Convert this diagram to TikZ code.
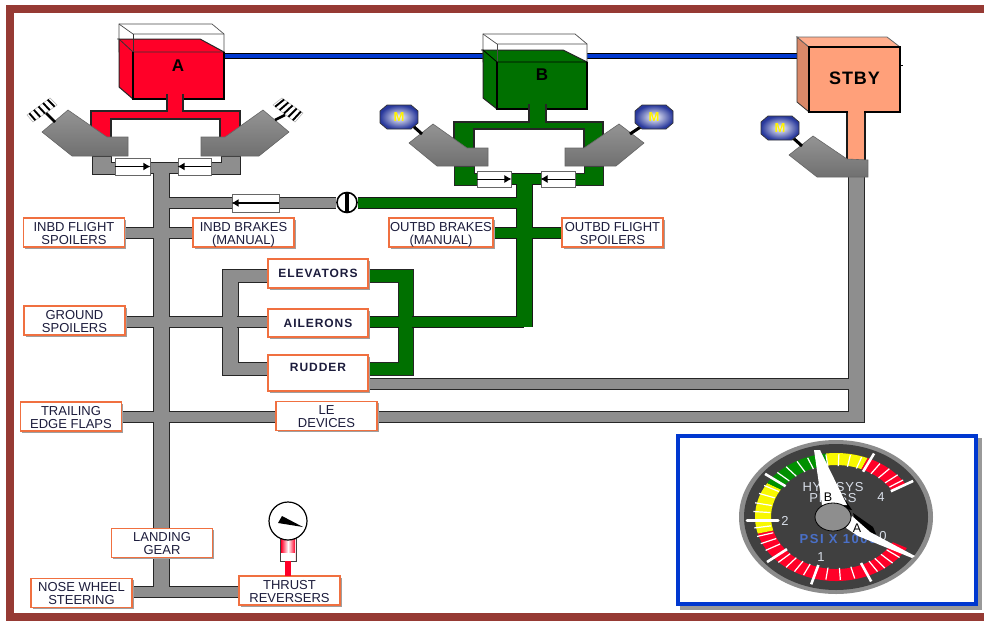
\documentclass[tikz,border=0pt]{standalone}
\usepackage{fontspec}
\setmainfont{Liberation Sans}
\usetikzlibrary{calc,shadows,arrows.meta}
\pgfdeclarelayer{back}\pgfdeclarelayer{bg}\pgfsetlayers{back,bg,main}
\definecolor{frameC}{HTML}{963A34}
\definecolor{pipeG}{HTML}{8E8E8E}
\definecolor{pipeV}{HTML}{007000}
\definecolor{pipeR}{HTML}{FF0028}
\definecolor{pipeP}{HTML}{FFA07A}
\definecolor{pipeB}{HTML}{0038D0}
\definecolor{lblO}{HTML}{F07040}
\definecolor{txtC}{HTML}{1C1C3C}
\definecolor{dial}{HTML}{404040}
\definecolor{dialY}{HTML}{F8F800}
\definecolor{dialG}{HTML}{009000}
\definecolor{dialT}{HTML}{D8DEE8}
\definecolor{dialB}{HTML}{4A70C8}
\definecolor{octO}{HTML}{28389C}
\def\pex{0}
\newcommand\twolines[2]{\raisebox{-5.5pt}[12pt][12pt]{\begin{tabular}{@{}c@{}}#1\\#2\end{tabular}}}
\tikzset{
 x=1pt,y=-1pt,
 lbl/.style={draw=lblO,line width=1.1pt,fill=white,inner sep=0pt,text=txtC,
   font=\fontsize{13}{12}\selectfont,
   copy shadow={shadow xshift=1.5pt,shadow yshift=-1.5pt,fill=gray!75,draw=none}},
 lblb/.style={lbl,align=center,font=\fontsize{12}{13}\bfseries\addfontfeatures{LetterSpace=8}},
 sz/.style={minimum width=101pt,minimum height=29pt},
 pv/.style={line width=15pt+\pex pt},
 ph/.style={line width=10pt+\pex pt},
 pl/.style={line width=10pt+\pex pt},
 edge/.style={draw=black!85,line width=1.2pt,line join=miter},
 valve/.style={draw=black!60,line width=.9pt,fill=white,inner sep=0pt},
 varrow/.style={-{Latex[length=7pt,width=8pt]},line width=1.6pt,black},
 pumpS/.style={draw=black!60,line width=.6pt,top color=black!42,bottom color=black!56},
 octS/.style={draw=black!80,line width=.7pt,inner color=white,outer color=octO},
 mtxt/.style={text=yellow,font=\fontsize{13}{13}\bfseries\selectfont,inner sep=0pt},
 boxtxt/.style={font=\fontsize{17}{17}\bfseries\selectfont,text=black,inner sep=0pt},
 dtxt/.style={text=dialT,font=\fontsize{13}{13}\selectfont,inner sep=0pt},
}
\newcommand\gseg[3]{\fill[#1] ($(G)+(#2:81pt and 64pt)$) arc[start angle=#2,end angle=#3,x radius=81pt,y radius=64pt] -- ($(G)+(#3:65pt and 52pt)$) arc[start angle=#3,end angle=#2,x radius=65pt,y radius=52pt] -- cycle;}
\newcommand\octa[3]{% name x y
  \path[octS] (#2-19,#3-6) -- (#2-12,#3-12) -- (#2+12,#3-12) -- (#2+19,#3-6) -- (#2+19,#3+6) -- (#2+12,#3+12) -- (#2-12,#3+12) -- (#2-19,#3+6) -- cycle;
  \node[mtxt] (#1) at (#2,#3) {M};}
\newcommand\grayNet{%
  \draw[pv] (mainT) -- (mainB);
  \draw[pl] (tA) -- (tB);
  \draw[ph] (mainL) -- (chkC.west |- mainL);
  \draw[ph] (chkC.east |- mainL) -- (shut.west);
  \draw[ph] (inf.east |- yI) -- (inb.west |- yI);
  \draw[ph] (gsp.east |- yG) -- (ail.west |- yG);
  \draw[pl] (nws.east |- yN) -- (thr.west |- yN);
  \draw[pl] (tef.east |- yT) -- (led.west |- yT);
  \draw[pl] (led.east |- yT) -- (corner);
  \draw[pv] (corner) ++(0,4.5) -- (stT);
  \draw[pl] (rud.east |- rr) -- (rr);
}
\newcommand\greenNet{%
  \draw[pv] (gT) -- (gB);
  \draw[pl] (gvL) -- (gvR);
  \draw[ph] (shut.east) -- (gT2);
  \draw[ph] (obb.east |- yI) -- (obf.west |- yI);
  \draw[ph] (ail.east |- yG) -- (gB2);
}
\begin{document}
\begin{tikzpicture}
\useasboundingbox (0,0) rectangle (984,621);
\begin{pgfonlayer}{back}
\fill[white] (0,0) rectangle (984,621);
\end{pgfonlayer}
% frame
\fill[frameC] (6,5) rectangle (984,13);
\fill[frameC] (6,5) rectangle (14,621);
\fill[frameC] (6,613) rectangle (984,621);

% coordinates
\coordinate (mainT) at (161.5,167);
\coordinate (mainB) at (161.5,596.5);
\coordinate (mainL) at (161.5,202.5);
\coordinate (tA) at (150,167.5);
\coordinate (tB) at (178,167.5);
\coordinate (yI) at (0,232.5);
\coordinate (yG) at (0,322);
\coordinate (yT) at (0,417);
\coordinate (yN) at (0,591.5);
\coordinate (corner) at (856.5,417);
\coordinate (stT) at (856.5,176);
\coordinate (rr) at (856,383.5);
\coordinate (gT) at (524,176);
\coordinate (gB) at (524,327);
\coordinate (gT2) at (524,202.5);
\coordinate (gB2) at (524,322);
\coordinate (gvL) at (511,179);
\coordinate (gvR) at (541,179);
\coordinate (blA) at (224,56);
\coordinate (blS) at (797,56);

% labels
\node[lbl,sz] (inf) at (74,232.5) {\twolines{INBD FLIGHT}{SPOILERS}};
\node[lbl,sz] (inb) at (243.5,232.5) {\twolines{INBD BRAKES}{(MANUAL)}};
\node[lbl,minimum width=104pt,minimum height=29pt] (obb) at (441,232.5) {\twolines{OUTBD BRAKES}{(MANUAL)}};
\node[lbl,sz] (obf) at (612.5,232.5) {\twolines{OUTBD FLIGHT}{SPOILERS}};
\node[lbl,sz] (gsp) at (74.5,320.5) {\twolines{GROUND}{SPOILERS}};
\node[lbl,sz] (tef) at (71,416.5) {\twolines{TRAILING}{EDGE FLAPS}};
\node[lbl,sz] (led) at (326.5,416) {\twolines{LE}{DEVICES}};
\node[lbl,sz] (lgr) at (162,543) {\twolines{LANDING}{GEAR}};
\node[lbl,sz] (nws) at (81.5,593) {\twolines{NOSE WHEEL}{STEERING}};
\node[lbl,sz] (thr) at (289.5,590.5) {\twolines{THRUST}{REVERSERS}};
\node[lblb,minimum width=100pt,minimum height=29pt] (elv) at (318,273.5) {ELEVATORS};
\node[lblb,minimum width=100pt,minimum height=28pt] (ail) at (318,323) {AILERONS};
\node[lblb,minimum width=100pt,minimum height=36pt] (rud) at (318,373) {RUDDER\\[-1pt]\mbox{}};

% shutoff valve and check valves
\node[valve,minimum width=47pt,minimum height=18pt] (chkC) at (255.5,203) {};
\draw[varrow] (chkC.east) -- (chkC.west);
\node[circle,draw=black,line width=1.6pt,fill=white,minimum size=20pt,inner sep=0pt] (shut) at (347,202.5) {};
\draw[line width=3.5pt,black] (shut.north) -- (shut.south);
\node[valve,minimum width=35pt,minimum height=17pt] (vA1) at (132.5,166.5) {};
\draw[varrow] (vA1.west) -- (vA1.east);
\node[valve,minimum width=33pt,minimum height=17pt] (vA2) at (194.5,166.5) {};
\draw[varrow] (vA2.east) -- (vA2.west);
\node[valve,minimum width=34pt,minimum height=16pt] (vB1) at (494,179) {};
\draw[varrow,line width=1pt] (vB1.west) -- (vB1.east);
\node[valve,minimum width=34pt,minimum height=16pt] (vB2) at (558,179) {};
\draw[varrow,line width=1pt] (vB2.east) -- (vB2.west);

% pipes behind everything
\begin{pgfonlayer}{bg}
 % flight-control C-shaped loops
 \path[edge,line width=1pt,fill=pipeG] (elv.west |- 0,269) -- (222,269) -- (222,375) -- (rud.west |- 0,375) -- (rud.west |- 0,362) -- (238,362) -- (238,282) -- (elv.west |- 0,282) -- cycle;
 \path[edge,line width=1pt,fill=pipeV] (elv.east |- 0,269) -- (413,269) -- (413,375) -- (rud.east |- 0,375) -- (rud.east |- 0,362) -- (398,362) -- (398,282) -- (elv.east |- 0,282) -- cycle;
 \begin{scope}[black!85,line cap=butt,line join=miter]
  \def\pex{2}\grayNet
 \end{scope}
 \begin{scope}[pipeG,line cap=butt,line join=miter]
  \def\pex{0}\grayNet
 \end{scope}
 \draw[black!85,line width=1pt] (864.5,400) -- (864.5,422.5) -- (850,422.5);
 \begin{scope}[black!90,line cap=butt,line join=miter]
  \def\pex{2}\greenNet
 \end{scope}
 \begin{scope}[pipeV,line cap=butt,line join=miter]
  \def\pex{0}\greenNet
 \end{scope}
 \fill[pipeG] (223,270) rectangle (237,374);
 \fill[pipeV] (399,270) rectangle (412,374);
 \draw[black,line width=6pt] (blA) -- (blS);
 \draw[pipeB,line width=3.6pt] (blA) -- (blS);
 % gray valve blocks A
 \path[edge,fill=pipeG,line width=1pt] (92,156) -- (111,156) -- (111,162) -- (115,162) -- (115,174) -- (92,174) -- cycle;
 \path[edge,fill=pipeG,line width=1pt] (211,162) -- (221,162) -- (221,156) -- (240,156) -- (240,174) -- (211,174) -- cycle;
 % green valve blocks B
 \path[edge,fill=pipeV,line width=1pt] (454,166) -- (474,166) -- (474,173) -- (477,173) -- (477,185) -- (454,185) -- cycle;
 \path[edge,fill=pipeV,line width=1pt] (575,173) -- (584,173) -- (584,166) -- (603,166) -- (603,185) -- (575,185) -- cycle;
\end{pgfonlayer}

% reservoir A
\path[draw=black!70,fill=white,line width=.7pt] (119,24) -- (212,24) -- (224,34) -- (224,52) -- (119,52) -- cycle;
\path[edge,fill=pipeR,line width=1pt] (119,39) -- (200,39) -- (224,52) -- (224,99) -- (133,99) -- (119,87) -- cycle;
\draw[black!70,line width=.7pt] (119,24) -- (133,34) -- (224,34);
\draw[black!80,line width=.7pt] (133,34) -- (133,99);
\draw[black!80,line width=.8pt] (117,39) -- (119,39) -- (133,52) -- (224,52);
\draw[black,line width=1.4pt] (133,52) -- (133,99) -- (224,99) -- (224,52);
\node[boxtxt] (rA) at (178,66) {A};
\path[edge,fill=pipeR] (91,111) -- (167,111) -- (167,95) -- (183,95) -- (183,111) -- (240,111) -- (240,140) -- (220,140) -- (220,119) -- (111,119) -- (111,140) -- (91,140) -- cycle;
\fill[pipeR] (168,94) rectangle (182,112);

% reservoir B
\path[draw=black!70,fill=white,line width=.7pt] (483,34) -- (575,34) -- (587,44) -- (587,62) -- (483,62) -- cycle;
\path[edge,fill=pipeV,line width=1pt] (483,50) -- (563,50) -- (587,62) -- (587,109) -- (497,109) -- (483,98) -- cycle;
\draw[black!70,line width=.7pt] (483,34) -- (497,44) -- (587,44);
\draw[black!70,line width=.7pt] (497,44) -- (497,62);
\draw[black,line width=.8pt] (481,50) -- (483,50) -- (497,62) -- (587,62);
\draw[black,line width=1.4pt] (497,62) -- (497,109) -- (587,109) -- (587,62);
\node[boxtxt] (rB) at (542,75) {B};
\path[edge,fill=pipeV] (454,122) -- (529,122) -- (529,105) -- (546,105) -- (546,122) -- (603,122) -- (603,150) -- (584,150) -- (584,129) -- (474,129) -- (474,150) -- (454,150) -- cycle;
\fill[pipeV] (530,104) rectangle (545,123);

% reservoir STBY
\path[draw=black!80,fill=pipeP!85!black,line width=.8pt] (797,37) -- (809,47) -- (809,112) -- (797,102) -- cycle;
\path[draw=black!60,fill=pipeP!85!white,line width=.8pt] (797,37) -- (887,37) -- (900,47) -- (809,47) -- cycle;
\draw[black,line width=.8pt] (900,65) -- (903,65);
\path[draw=black!90,fill=pipeP,line width=1.2pt] (847,110) -- (847,162) -- (865,162) -- (865,110);
\node[draw=black,line width=1.2pt,fill=pipeP,minimum width=91pt,minimum height=65pt,inner sep=0pt,font=\fontsize{18}{18}\bfseries\addfontfeatures{LetterSpace=5},text=black] (rS) at (854.5,79.5) {\raisebox{2pt}{STBY}};
\fill[pipeP] (848,110) rectangle (864,114);

% pumps
\path[pumpS] (68,110) -- (107,137) -- (128,137) -- (128,156) -- (72,156) -- (42,132) -- cycle;
\path[pumpS] (263,110) -- (225,137) -- (201,137) -- (201,156) -- (259,156) -- (289,132) -- cycle;
\path[pumpS] (433,124) -- (467,148) -- (488,148) -- (488,166) -- (437,166) -- (409,143) -- cycle;
\path[pumpS] (619,124) -- (584,148) -- (565,148) -- (565,166) -- (616,166) -- (644,143) -- cycle;
\path[pumpS] (813,136) -- (847,159) -- (868,160) -- (868,177) -- (817,177) -- (789,155) -- cycle;

% rakes
\coordinate (ra) at (27,115);\coordinate (rb) at (50,98);\coordinate (rc) at (57,105);\coordinate (rd) at (33,122);
\path[fill=white,draw=black!30,line width=.5pt] (ra) -- (rb) -- (rc) -- (rd) -- cycle;
\foreach \f in {.1,.3,.5,.7,.9} \draw[black,line width=1.9pt] ($(ra)!\f!(rb)$) -- ($(rd)!\f!(rc)$);
\draw[black,line width=2.6pt] (46,113) -- (55,122);
\coordinate (sa) at (273,105);\coordinate (sb) at (282,98);\coordinate (sc) at (303,113);\coordinate (sd) at (295,122);
\path[fill=white,draw=black!30,line width=.5pt] (sa) -- (sb) -- (sc) -- (sd) -- cycle;
\foreach \f in {.1,.3,.5,.7,.9} \draw[black,line width=1.9pt] ($(sb)!\f!(sc)$) -- ($(sa)!\f!(sd)$);
\draw[black,line width=2.6pt] (275,120) -- (285,115);

% M motors
\draw[black,line width=3pt] (413,126) -- (422,134);
\draw[black,line width=3pt] (642,126) -- (630,134);
\draw[black,line width=3pt] (792,137) -- (802,146);
\octa{mL}{399}{117}
\octa{mR}{654}{117}
\octa{mS}{780}{128}

% thrust reverser gauge
\shade[left color=pipeR,right color=pipeR,middle color=white] (281,535) rectangle (295,561);
\draw[black!75,line width=.8pt] (280,535) rectangle (296,561);
\fill[white] (281,553) rectangle (295,560.5);
\draw[pipeR,line width=6pt] (287.5,561) -- (287.5,576);
\node[circle,draw=black,line width=1.2pt,fill=white,minimum size=38pt,inner sep=0pt] (gg) at (288,521) {};
\fill[black] (278,523) -- (282,516) -- (303,527) -- cycle;

% main instrument panel
\fill[black!40] (680,438) rectangle (982,610);
\node[draw=pipeB,line width=4pt,fill=white,minimum width=298pt,minimum height=168pt,inner sep=0pt] (panel) at (827,520) {};
\coordinate (G) at (836,517);
\fill[black!45] (G) ellipse [x radius=97pt,y radius=77pt];
\fill[dial] (G) ellipse [x radius=92pt,y radius=73pt];
\gseg{pipeR}{-165}{-29}
\gseg{dialY}{-212}{-165}
\gseg{dialG}{-263}{-212}
\gseg{dialY}{-293}{-263}
\gseg{pipeR}{30}{67}
\foreach \t in {-40,-47,-54,-60,-77,-87,-97,-113,-120,-127,-134,212,205,198,190,175,167,158,150,135,127,118,110,97,88,80,72,58,50,42,36}
  \draw[white,line width=1.2pt] ($(G)+(\t:66pt and 51pt)$) -- ($(G)+(\t:83pt and 63pt)$);
\foreach \t in {-106,-67,220,142,65,31}
  \draw[white,line width=2.6pt] ($(G)+(\t:64pt and 50pt)$) -- ($(G)+(\t:90pt and 70pt)$);
\draw[white,line width=3pt,line cap=round] (747,520) -- (778,520);
\node[dtxt] (d2) at (785,521) {2};
\node[dtxt] (d3) at (827,475) {3};
\node[dtxt] (d4) at (881,497) {4};
\node[dtxt] (d0) at (883,536) {0};
\node[dtxt] (d1) at (821,557) {1};
\node[dtxt,font=\fontsize{13}{13}\selectfont\addfontfeatures{LetterSpace=6}] (t1) at (833,487) {HYD SYS};
\node[dtxt,font=\fontsize{13}{13}\selectfont\addfontfeatures{LetterSpace=6}] (t2) at (833,498) {PRESS};
\node[dtxt,text=dialB,font=\fontsize{13}{13}\bfseries\addfontfeatures{LetterSpace=12}] (t3) at (838,539) {PSI X 1000};
% needles
\fill[black] (822,465) -- (852,510) -- (840,508) -- cycle;
\fill[white] (814,450) -- (820,450) -- (847,505) -- (822,505) -- cycle;
\node[inner sep=0pt,font=\fontsize{12.5}{12.5}\selectfont,text=black] (nB) at (828,497) {B};
\fill[black] (853,513) -- (873,527) -- (876,534) -- (860,536) -- cycle;
\fill[white] (915,556) -- (912,558) -- (858,536) -- (846,528) -- (852,516) -- (870,532) -- cycle;
\node[inner sep=0pt,font=\fontsize{12.5}{12.5}\selectfont,text=black] (nA) at (857,528) {A};
\draw[black,line width=.8pt,fill=pipeG] (833,517) ellipse [x radius=18pt,y radius=14pt];
\end{tikzpicture}
\end{document}
